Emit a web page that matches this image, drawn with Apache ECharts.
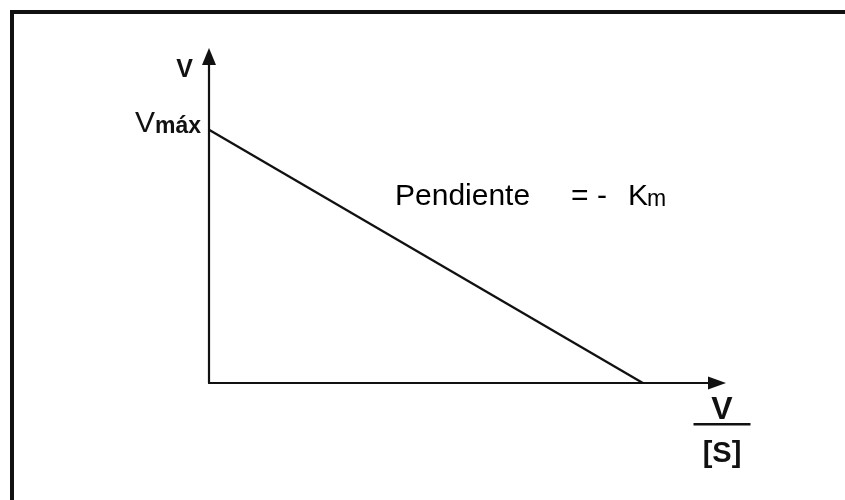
<!DOCTYPE html>
<html>
<head>
<meta charset="utf-8">
<script src="https://cdn.jsdelivr.net/npm/echarts@6/dist/echarts.min.js"></script>
<style>
  html, body { margin: 0; padding: 0; background: #fff; }
  #chart { width: 845px; height: 500px; }
</style>
</head>
<body>
<div id="chart"></div>
<script>
// Eadie–Hofstee plot: v against v/[S]
const sRatio = [0, 8.54];      // v/[S]
const velocity = [7.76, 0];    // v
const vMax = 7.76;             // intercept on the v axis
const yTickLabels = ['Vmáx'];
const xName = ['V', '[S]'];
const yName = 'V';

const FONT = 'Liberation Sans, Arial, sans-serif';
const INK = '#111';

const chart = echarts.init(document.getElementById('chart'), null, { renderer: 'canvas' });

chart.setOption({
  backgroundColor: '#fff',
  animation: false,
  grid: { left: 209, right: 128, top: 56.5, bottom: 117, outerBoundsMode: 'none' },
  xAxis: {
    type: 'value',
    min: 0,
    max: 10,
    name: '{n|' + xName[0] + '}\n{bar| }\n{d|' + xName[1] + '}',
    nameLocation: 'end',
    nameGap: 5,
    nameTextStyle: {
      align: 'center',
      verticalAlign: 'top',
      padding: [14, 0, 0, 0],
      rich: {
        n: { fontFamily: FONT, fontSize: 32, fontWeight: 'bold', color: INK, lineHeight: 26 },
        bar: { fontSize: 1, width: 57, height: 2.5, lineHeight: 2.5, backgroundColor: INK },
        d: { fontFamily: FONT, fontSize: 29, fontWeight: 'bold', color: INK, lineHeight: 56 }
      }
    },
    axisLine: {
      show: true,
      symbol: ['none', 'triangle'],
      symbolSize: [13, 18],
      lineStyle: { color: INK, width: 2.2 }
    },
    axisTick: { show: false },
    axisLabel: { show: false },
    splitLine: { show: false }
  },
  yAxis: {
    type: 'value',
    min: 0,
    max: 10,
    name: yName,
    nameLocation: 'end',
    nameGap: 0,
    nameTextStyle: {
      fontFamily: FONT, fontSize: 25, fontWeight: 'bold', color: INK,
      align: 'right', verticalAlign: 'top', padding: [1, 16, 0, 0]
    },
    axisLine: {
      show: true,
      symbol: ['none', 'triangle'],
      symbolSize: [14, 17],
      lineStyle: { color: INK, width: 2.2 }
    },
    axisTick: { show: false },
    axisLabel: {
      show: true,
      customValues: [vMax],
      margin: 8,
      padding: [0, 0, 12, 0],
      formatter: () => '{v|' + yTickLabels[0].charAt(0) + '}{s|' + yTickLabels[0].slice(1) + '}',
      rich: {
        v: { fontFamily: FONT, fontSize: 30, color: INK, lineHeight: 30, verticalAlign: 'bottom' },
        s: { fontFamily: FONT, fontSize: 23, fontWeight: 'bold', color: INK, lineHeight: 23, verticalAlign: 'bottom' }
      }
    },
    splitLine: { show: false }
  },
  series: [{
    type: 'line',
    data: sRatio.map((x, i) => [x, velocity[i]]),
    showSymbol: false,
    symbol: 'none',
    lineStyle: { color: INK, width: 2.3 },
    silent: true
  }],
  graphic: [
    {
      // frame around the figure
      type: 'rect',
      shape: { x: 12, y: 12, width: 900, height: 600 },
      style: { fill: 'none', stroke: INK, lineWidth: 4 },
      silent: true
    },
    {
      type: 'text',
      x: 395,
      y: 181.5,
      style: {
        text: '{p|Pendiente}{eq|=}{dash|-}{k|K}{m|m}',
        verticalAlign: 'top',
        align: 'left',
        rich: {
          p: { fontFamily: FONT, fontSize: 30, color: INK, width: 176, lineHeight: 30, verticalAlign: 'bottom' },
          eq: { fontFamily: FONT, fontSize: 30, color: INK, width: 26, lineHeight: 30, verticalAlign: 'bottom' },
          dash: { fontFamily: FONT, fontSize: 30, color: INK, width: 31, lineHeight: 30, verticalAlign: 'bottom' },
          k: { fontFamily: FONT, fontSize: 30, color: INK, width: 19, lineHeight: 30, verticalAlign: 'bottom' },
          m: { fontFamily: FONT, fontSize: 23, color: INK, lineHeight: 23, verticalAlign: 'bottom' }
        }
      },
      silent: true
    }
  ]
});
</script>
</body>
</html>
